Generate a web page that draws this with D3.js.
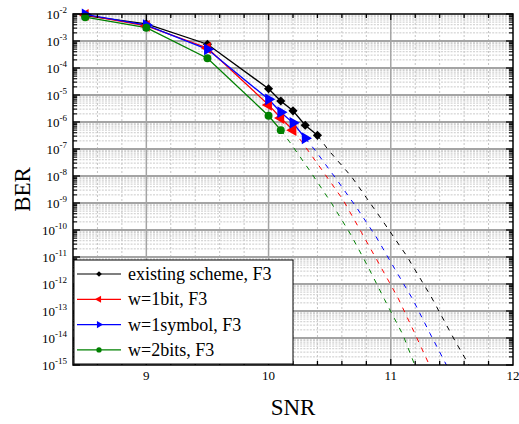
<!DOCTYPE html>
<html>
<head>
<meta charset="utf-8">
<script src="https://cdn.jsdelivr.net/npm/d3@7"></script>
<style>
  body { margin: 0; background: #fff; }
  text { font-family: "Liberation Serif", "Times New Roman", serif; }
</style>
</head>
<body>
<div id="chart"></div>
<script>
// measured points
var snrExisting = [8.5, 9, 9.5, 10, 10.1, 10.2, 10.3, 10.4]
var berExisting = [8.7e-3, 4.3e-3, 7.6e-4, 1.7e-5, 6.0e-6, 2.6e-6, 7.6e-7, 3.2e-7]
var snr1bit = [8.5, 9, 9.5, 10, 10.1, 10.2]
var ber1bit = [9.3e-3, 3.6e-3, 5.5e-4, 4.3e-6, 1.4e-6, 5.0e-7]
var snr1sym = [8.5, 9, 9.5, 10, 10.1, 10.2, 10.3]
var ber1sym = [9.6e-3, 3.9e-3, 4.9e-4, 6.9e-6, 2.3e-6, 9.3e-7, 2.5e-7]
var snr2bits = [8.5, 9, 9.5, 10, 10.1]
var ber2bits = [7.6e-3, 3.1e-3, 2.3e-4, 1.7e-6, 5.0e-7]

// dashed extrapolations
var snrExistingExt = [10.4, 10.49, 10.68, 10.91, 11.13, 11.33, 11.53, 11.64]
var berExistingExt = [3.2e-7, 9.1e-8, 9.3e-9, 3.1e-10, 1.1e-11, 3.4e-13, 7.2e-15, 1.0e-15]
var snr1bitExt = [10.2, 10.27, 10.44, 10.61, 10.76, 10.91, 11.06, 11.19, 11.32]
var ber1bitExt = [5.0e-7, 1.9e-7, 1.6e-8, 1.3e-9, 8.1e-11, 5.0e-12, 3.0e-13, 1.7e-14, 9.1e-16]
var snr1symExt = [10.3, 10.38, 10.56, 10.725, 10.88, 11.03, 11.18, 11.32, 11.46]
var ber1symExt = [2.5e-7, 9.1e-8, 7.1e-9, 6.3e-10, 5.6e-11, 3.8e-12, 2.7e-13, 1.5e-14, 9.1e-16]
var snr2bitsExt = [10.1, 10.17, 10.35, 10.515, 10.67, 10.81, 10.95, 11.1, 11.2]
var ber2bitsExt = [5.0e-7, 1.9e-7, 1.3e-8, 9.8e-10, 7.1e-11, 4.7e-12, 2.6e-13, 1.3e-14, 9.0e-16]

var names = ['existing scheme, F3', 'w=1bit, F3', 'w=1symbol, F3', 'w=2bits, F3']
var colors = ['#000000', '#ff0000', '#0000ff', '#008000']
var xTicks = [9, 10, 11, 12]
var yExp = [-2, -3, -4, -5, -6, -7, -8, -9, -10, -11, -12, -13, -14, -15]

var width = 519
var height = 424
var margin = {left: 73, right: 6, top: 14, bottom: 59}

var svg = d3.select('#chart')
  .append('svg')
    .attr('width', width)
    .attr('height', height)

var x = d3.scaleLinear().domain([8.4, 12]).range([margin.left, width - margin.right])
var y = d3.scaleLog().domain([1e-15, 1e-2]).range([height - margin.bottom, margin.top])

var x0 = x.range()[0], x1 = x.range()[1]
var y0 = y.range()[0], y1 = y.range()[1]

var series = [
  {pts: d3.zip(snrExisting, berExisting), ext: d3.zip(snrExistingExt, berExistingExt), sym: 'diamond'},
  {pts: d3.zip(snr1bit, ber1bit), ext: d3.zip(snr1bitExt, ber1bitExt), sym: 'left'},
  {pts: d3.zip(snr1sym, ber1sym), ext: d3.zip(snr1symExt, ber1symExt), sym: 'right'},
  {pts: d3.zip(snr2bits, ber2bits), ext: d3.zip(snr2bitsExt, ber2bitsExt), sym: 'circle'}
]

svg.append('defs').append('clipPath').attr('id', 'clip')
  .append('rect').attr('x', x0).attr('y', y1).attr('width', x1 - x0).attr('height', y0 - y1)

var grid = svg.append('g')

// minor grid
var xMinor = d3.range(8.6, 12, 0.2).filter(function(v) { return Math.abs(v - Math.round(v)) > 0.01 })
grid.selectAll('.xminor').data(xMinor).enter().append('line')
  .attr('x1', function(d) { return x(d) }).attr('x2', function(d) { return x(d) })
  .attr('y1', y0).attr('y2', y1)
  .attr('stroke', '#c4c4c4').attr('stroke-width', 1).attr('stroke-dasharray', '2,2')

var yMinor = []
yExp.forEach(function(e) {
  if (e == -2) return
  for (var m = 2; m <= 9; m++) yMinor.push(m * Math.pow(10, e))
})
grid.selectAll('.yminor').data(yMinor).enter().append('line')
  .attr('x1', x0).attr('x2', x1)
  .attr('y1', function(d) { return y(d) }).attr('y2', function(d) { return y(d) })
  .attr('stroke', '#cacaca').attr('stroke-width', 1).attr('stroke-dasharray', '2,1.2')

// major grid
grid.selectAll('.xmajor').data([9, 10, 11]).enter().append('line')
  .attr('x1', function(d) { return x(d) }).attr('x2', function(d) { return x(d) })
  .attr('y1', y0).attr('y2', y1)
  .attr('stroke', '#a4a4a4').attr('stroke-width', 1.5)
grid.selectAll('.ymajor').data(yExp.slice(1, -1)).enter().append('line')
  .attr('x1', x0).attr('x2', x1)
  .attr('y1', function(d) { return y(Math.pow(10, d)) }).attr('y2', function(d) { return y(Math.pow(10, d)) })
  .attr('stroke', '#a4a4a4').attr('stroke-width', 2)

var line = d3.line().x(function(d) { return x(d[0]) }).y(function(d) { return y(d[1]) })
var plot = svg.append('g').attr('clip-path', 'url(#clip)')

function symType(sym) {
  return sym == 'diamond' ? d3.symbolSquare : sym == 'circle' ? d3.symbolCircle : d3.symbolTriangle
}
function symRot(sym) {
  return sym == 'diamond' ? 45 : sym == 'left' ? -90 : sym == 'right' ? 90 : 0
}

series.forEach(function(s, i) {
  plot.append('path').datum(s.ext)
    .attr('d', line).attr('fill', 'none')
    .attr('stroke', colors[i]).attr('stroke-width', 1).attr('stroke-dasharray', '5,6')
  plot.append('path').datum(s.pts)
    .attr('d', line).attr('fill', 'none')
    .attr('stroke', colors[i]).attr('stroke-width', 1.3)
  var size = s.sym == 'circle' ? 50 : s.sym == 'diamond' ? 42 : 60
  svg.selectAll('.m' + i).data(s.pts).enter().append('path')
    .attr('fill', colors[i])
    .attr('d', d3.symbol().type(symType(s.sym)).size(size)())
    .attr('transform', function(d) { return 'translate(' + x(d[0]) + ',' + y(d[1]) + ') rotate(' + symRot(s.sym) + ')' })
})

// axes box with inward ticks
var ax = svg.append('g').attr('stroke', '#000')
ax.append('rect').attr('x', x0).attr('y', y1).attr('width', x1 - x0).attr('height', y0 - y1)
  .attr('fill', 'none').attr('stroke-width', 1.5)

var xMinorTicks = d3.range(8.6, 12, 0.2)
xMinorTicks.forEach(function(v) {
  var len = Math.abs(v - Math.round(v)) < 0.01 ? 6 : 4
  ax.append('line').attr('x1', x(v)).attr('x2', x(v)).attr('y1', y0).attr('y2', y0 - len).attr('stroke-width', 1.3)
  ax.append('line').attr('x1', x(v)).attr('x2', x(v)).attr('y1', y1).attr('y2', y1 + len).attr('stroke-width', 1.3)
})
yExp.forEach(function(e) {
  var v = y(Math.pow(10, e))
  ax.append('line').attr('x1', x0).attr('x2', x0 + 7).attr('y1', v).attr('y2', v).attr('stroke-width', 1.3)
  ax.append('line').attr('x1', x1).attr('x2', x1 - 7).attr('y1', v).attr('y2', v).attr('stroke-width', 1.3)
})
yMinor.forEach(function(d) {
  ax.append('line').attr('x1', x0).attr('x2', x0 + 4).attr('y1', y(d)).attr('y2', y(d)).attr('stroke-width', 1.1)
  ax.append('line').attr('x1', x1).attr('x2', x1 - 4).attr('y1', y(d)).attr('y2', y(d)).attr('stroke-width', 1.1)
})

// tick labels
svg.selectAll('.xl').data(xTicks).enter().append('text')
  .attr('x', function(d) { return x(d) }).attr('y', y0 + 15)
  .attr('text-anchor', 'middle').style('font-size', '13px')
  .text(function(d) { return d })

var yl = svg.selectAll('.yl').data(yExp).enter().append('text')
  .attr('x', x0 - 6).attr('y', function(d) { return y(Math.pow(10, d)) + 5 })
  .attr('text-anchor', 'end').style('font-size', '13px')
yl.append('tspan').text('10')
yl.append('tspan').attr('dy', -6).style('font-size', '9px').text(function(d) { return d })

svg.append('text').attr('x', (x0 + x1) / 2).attr('y', 415)
  .attr('text-anchor', 'middle').style('font-size', '23px').text('SNR')
svg.append('text').attr('transform', 'translate(30,' + ((y0 + y1) / 2) + ') rotate(-90)')
  .attr('text-anchor', 'middle').style('font-size', '23px').text('BER')

// legend
var lg = svg.append('g')
lg.append('rect').attr('x', x0 + 1).attr('y', 260).attr('width', 219).attr('height', y0 - 261)
  .attr('fill', '#fff').attr('stroke', '#000').attr('stroke-width', 1)
names.forEach(function(n, i) {
  var ly = 274 + i * 25.3
  var sym = series[i].sym
  lg.append('line').attr('x1', 77).attr('x2', 121).attr('y1', ly).attr('y2', ly)
    .attr('stroke', colors[i]).attr('stroke-width', 1.2)
  lg.append('path').attr('d', d3.symbol().type(symType(sym)).size(sym == 'diamond' ? 16 : 22)())
    .attr('transform', 'translate(99,' + ly + ') rotate(' + symRot(sym) + ')')
    .attr('fill', colors[i])
  lg.append('text').attr('x', 128).attr('y', ly + 6).style('font-size', '18px').text(n)
})
</script>
</body>
</html>
